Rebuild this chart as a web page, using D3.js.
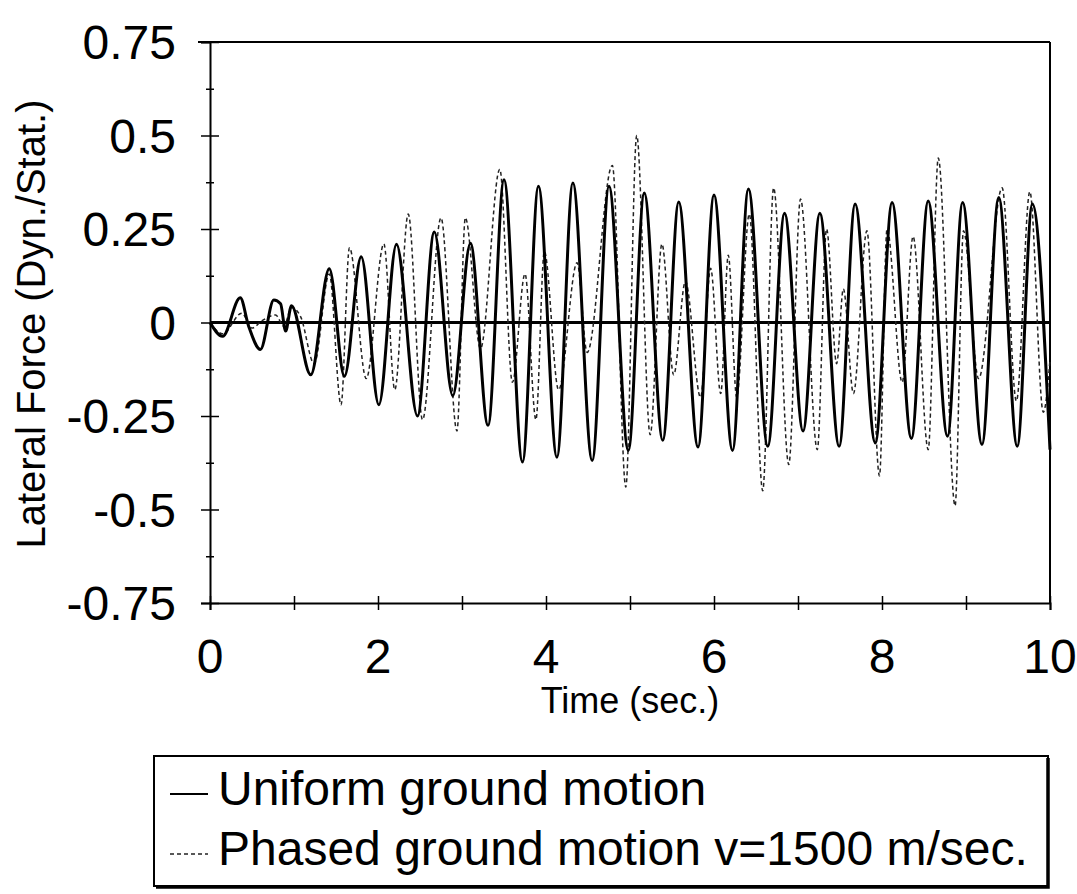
<!DOCTYPE html>
<html>
<head>
<meta charset="utf-8">
<script src="https://cdn.jsdelivr.net/npm/d3@7"></script>
<style>
  body { margin: 0; background: #fff; }
  svg { display: block; font-family: "Liberation Sans", Arial, sans-serif; }
</style>
</head>
<body>
<div id="chart"></div>
<script>
// data (extrema of each trace, time in sec.)
var uniformT = [0, 0.15, 0.36, 0.46, 0.6, 0.76, 0.84, 0.9, 0.97, 1.2, 1.42, 1.6, 1.8, 2.01, 2.22, 2.47, 2.67, 2.89, 3.10, 3.31,
    3.50, 3.72, 3.91, 4.13, 4.32, 4.55, 4.75, 4.98, 5.17, 5.39, 5.58, 5.81, 6.00, 6.22, 6.41, 6.64, 6.84, 7.06, 7.26, 7.49,
    7.68, 7.92, 8.12, 8.35, 8.55, 8.78, 8.96, 9.19, 9.39, 9.61, 9.79, 10];
var uniformV = [0, -0.037, 0.066, -0.01, -0.072, 0.06, 0.05, -0.023, 0.045, -0.14, 0.144, -0.144, 0.176, -0.22, 0.209, -0.25, 0.242, -0.196, 0.212, -0.275,
    0.382, -0.373, 0.364, -0.36, 0.373, -0.369, 0.364, -0.342, 0.346, -0.315, 0.322, -0.333, 0.341, -0.342, 0.357, -0.331, 0.292, -0.29, 0.292, -0.331,
    0.317, -0.322, 0.321, -0.31, 0.325, -0.304, 0.321, -0.326, 0.334, -0.331, 0.317, -0.34];

var phasedT = [0, 0.15, 0.38, 0.5, 0.62, 0.78, 0.88, 0.97, 1.08, 1.24, 1.42, 1.56, 1.66, 1.86, 2.07, 2.2, 2.36, 2.53, 2.75, 2.94,
    3.04, 3.22, 3.45, 3.6, 3.75, 3.88, 3.98, 4.15, 4.37, 4.49, 4.79, 4.95, 5.08, 5.24, 5.38, 5.52, 5.66, 5.84, 5.96, 6.08,
    6.17, 6.27, 6.42, 6.58, 6.71, 6.89, 7.03, 7.23, 7.34, 7.46, 7.54, 7.66, 7.82, 7.97, 8.06, 8.24, 8.37, 8.55, 8.67, 8.87,
    8.97, 9.15, 9.43, 9.6, 9.76, 9.92, 10];
var phasedV = [0, -0.03, 0.025, -0.015, 0.005, 0.02, -0.01, 0.04, 0.015, -0.11, 0.13, -0.22, 0.2, -0.15, 0.21, -0.18, 0.29, -0.26, 0.28, -0.29,
    0.28, -0.07, 0.41, -0.16, 0.13, -0.26, 0.19, -0.18, 0.16, -0.08, 0.42, -0.44, 0.5, -0.3, 0.21, -0.14, 0.11, -0.2, 0.145, -0.19,
    0.18, -0.2, 0.29, -0.45, 0.36, -0.38, 0.33, -0.34, 0.25, -0.11, 0.09, -0.19, 0.245, -0.41, 0.25, -0.16, 0.23, -0.34, 0.44, -0.49,
    0.245, -0.15, 0.36, -0.21, 0.35, -0.24, -0.1];

var xTicks = [0, 2, 4, 6, 8, 10];
var yTicks = [0.75, 0.5, 0.25, 0, -0.25, -0.5, -0.75];
var yTickLabels = ["0.75", "0.5", "0.25", "0", "-0.25", "-0.5", "-0.75"];
var legendLabels = ["Uniform ground motion", "Phased ground motion v=1500 m/sec."];

var width = 1077, height = 894;
var plotLeft = 210, plotRight = 1050, plotTop = 42, plotBottom = 603;

var svg = d3.select("#chart").append("svg")
    .attr("width", width)
    .attr("height", height);

var x = d3.scaleLinear().domain([0, 10]).range([plotLeft, plotRight]);
var y = d3.scaleLinear().domain([-0.75, 0.75]).range([plotBottom, plotTop]);

// frame: top and right border
svg.append("line")
    .attr("x1", plotLeft - 12).attr("y1", plotTop).attr("x2", plotRight).attr("y2", plotTop)
    .attr("stroke", "#000").attr("stroke-width", 2);
svg.append("line")
    .attr("x1", plotRight).attr("y1", plotTop).attr("x2", plotRight).attr("y2", plotBottom)
    .attr("stroke", "#000").attr("stroke-width", 2);

// x axis, ticks cross the line
var xAxis = svg.append("g")
    .attr("transform", "translate(0," + plotBottom + ")")
    .call(d3.axisBottom(x).tickValues(d3.range(0, 11, 1)).tickSize(7).tickFormat(""));
xAxis.select(".domain").attr("stroke-width", 2);
xAxis.selectAll(".tick line").attr("y1", -7).attr("y2", 7).attr("stroke-width", 1.5);

svg.selectAll(".xlab")
    .data(xTicks)
    .enter().append("text")
    .attr("class", "xlab")
    .attr("x", function(d) { return x(d); })
    .attr("y", 673)
    .attr("text-anchor", "middle")
    .attr("font-size", "48px")
    .text(function(d) { return d; });

// y axis, major + minor ticks
var yAxis = svg.append("g")
    .attr("transform", "translate(" + plotLeft + ",0)")
    .call(d3.axisLeft(y).tickValues(yTicks).tickSize(9).tickFormat(""));
yAxis.select(".domain").attr("stroke-width", 2);
yAxis.selectAll(".tick line").attr("x1", -9).attr("x2", 9).attr("stroke-width", 1.5);

var yMinor = svg.append("g")
    .attr("transform", "translate(" + plotLeft + ",0)")
    .call(d3.axisLeft(y).tickValues([0.625, 0.375, 0.125, -0.125, -0.375, -0.625]).tickSize(4).tickFormat(""));
yMinor.select(".domain").remove();
yMinor.selectAll(".tick line").attr("x1", -4).attr("x2", 4).attr("stroke-width", 1.5);

svg.selectAll(".ylab")
    .data(yTicks)
    .enter().append("text")
    .attr("class", "ylab")
    .attr("x", 176)
    .attr("y", function(d) { return y(d); })
    .attr("dy", "0.36em")
    .attr("text-anchor", "end")
    .attr("font-size", "48px")
    .text(function(d, i) { return yTickLabels[i]; });

// zero line
svg.append("line")
    .attr("x1", x(0)).attr("y1", y(0)).attr("x2", x(10)).attr("y2", y(0))
    .attr("stroke", "#000").attr("stroke-width", 3);

var line = d3.line()
    .x(function(d) { return x(d[0]); })
    .y(function(d) { return y(d[1]); })
    .curve(d3.curveMonotoneX);

svg.append("path")
    .datum(d3.zip(phasedT, phasedV))
    .attr("d", line)
    .attr("fill", "none")
    .attr("stroke", "#222")
    .attr("stroke-width", 1.5)
    .attr("stroke-dasharray", "4,3");

svg.append("path")
    .datum(d3.zip(uniformT, uniformV))
    .attr("d", line)
    .attr("fill", "none")
    .attr("stroke", "#000")
    .attr("stroke-width", 3);

// axis titles
svg.append("text")
    .attr("x", (plotLeft + plotRight) / 2)
    .attr("y", 713)
    .attr("text-anchor", "middle")
    .attr("font-size", "36px")
    .text("Time (sec.)");

svg.append("text")
    .attr("transform", "translate(45,324) rotate(-90)")
    .attr("text-anchor", "middle")
    .attr("font-size", "40px")
    .text("Lateral Force (Dyn./Stat.)");

// legend
var legend = svg.append("g");
legend.append("rect")
    .attr("x", 154).attr("y", 756)
    .attr("width", 894).attr("height", 130)
    .attr("fill", "#fff").attr("stroke", "#000").attr("stroke-width", 2);
legend.append("polyline")
    .attr("points", "1048,758 1048,887 156,887")
    .attr("fill", "none").attr("stroke", "#000").attr("stroke-width", 3.5);

legend.append("line")
    .attr("x1", 170).attr("y1", 794).attr("x2", 208).attr("y2", 794)
    .attr("stroke", "#000").attr("stroke-width", 2.2);
legend.append("line")
    .attr("x1", 170).attr("y1", 854).attr("x2", 208).attr("y2", 854)
    .attr("stroke", "#222").attr("stroke-width", 1.5).attr("stroke-dasharray", "4,3");

legend.selectAll(".leg")
    .data(legendLabels)
    .enter().append("text")
    .attr("class", "leg")
    .attr("x", 218)
    .attr("y", function(d, i) { return 805 + i * 60; })
    .attr("font-size", "48px")
    .text(function(d) { return d; });
</script>
</body>
</html>
